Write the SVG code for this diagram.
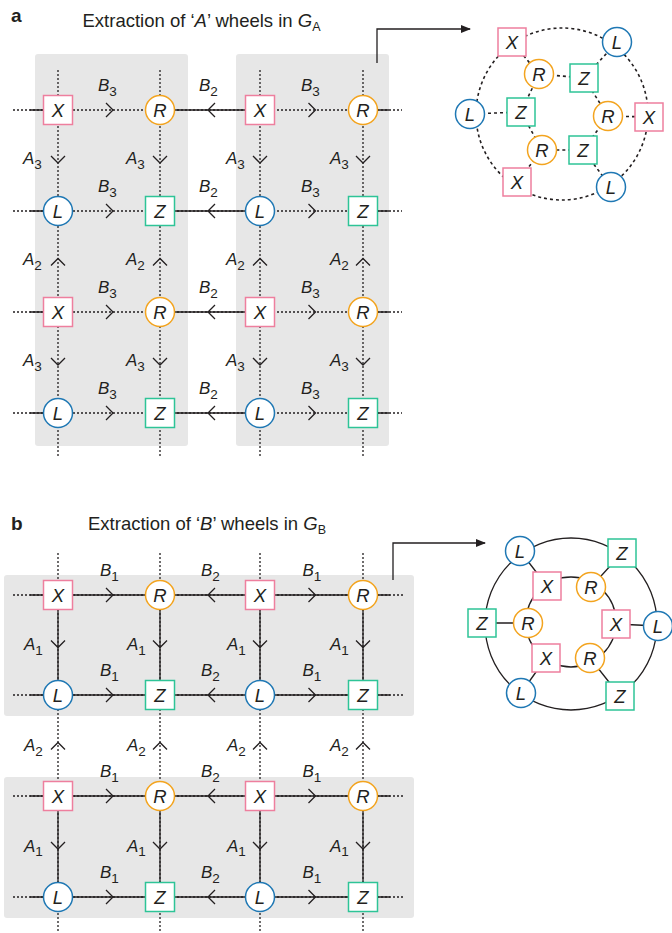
<svg xmlns="http://www.w3.org/2000/svg" xmlns:xlink="http://www.w3.org/1999/xlink" width="672" height="933" viewBox="0 0 672 933">
  <style>
    .ln { stroke: #231f20; stroke-width: 1.3; fill: none; }
    .dot { stroke-dasharray: 2 2; }
    .wd { stroke-width: 1.6; stroke-dasharray: 3 3; }
    .nd { fill: #ffffff; stroke-width: 1.5; }
    .X { stroke: #ee7f9e; }
    .Z { stroke: #2ec497; }
    .R { stroke: #f3a41f; }
    .L { stroke: #1f78b4; }
    .nt { font-family: "Liberation Sans", Arial, sans-serif; font-style: italic; font-size: 18.5px; text-anchor: middle; fill: #231f20; }
    .lb { font-family: "Liberation Sans", Arial, sans-serif; font-style: italic; font-size: 17px; fill: #231f20; }
    .sb { font-style: normal; font-size: 13.5px; }
    .ttl { font-family: "Liberation Sans", Arial, sans-serif; font-size: 18.5px; fill: #231f20; }
    .pl { font-family: "Liberation Sans", Arial, sans-serif; font-weight: bold; font-size: 19px; fill: #231f20; }
    .bg { fill: #e7e7e7; }
  </style>
  <defs>
    <path id="cr" class="ln" d="M-3.5,-7 L3.5,0 L-3.5,7"/>
    <path id="cl" class="ln" d="M3.5,-7 L-3.5,0 L3.5,7"/>
    <path id="cd" class="ln" d="M-7,-3.5 L0,3.5 L7,-3.5"/>
    <path id="cu" class="ln" d="M-7,3.5 L0,-3.5 L7,3.5"/>
    <marker id="ah" viewBox="0 0 10 8" refX="9" refY="4" markerWidth="10" markerHeight="8" markerUnits="userSpaceOnUse" orient="auto">
      <path d="M0,0 L10,4 L0,8 Z" fill="#231f20"/>
    </marker>
  </defs>

  <rect width="672" height="933" fill="#ffffff"/>

  <!-- panel headings -->
  <text class="pl" x="11" y="22">a</text>
  <text class="ttl" x="82.5" y="26.5">Extraction of ‘<tspan font-style="italic">A</tspan>’ wheels in <tspan font-style="italic">G</tspan><tspan font-size="12.5" dy="4">A</tspan></text>
  <text class="pl" x="11" y="530">b</text>
  <text class="ttl" x="88" y="530">Extraction of ‘<tspan font-style="italic">B</tspan>’ wheels in <tspan font-style="italic">G</tspan><tspan font-size="12.5" dy="4">B</tspan></text>

  <!-- shaded blocks -->
  <rect class="bg" x="35" y="54" width="153" height="392" rx="3"/>
  <rect class="bg" x="236" y="54" width="153" height="392" rx="3"/>
  <rect class="bg" x="4" y="575" width="410" height="141" rx="3"/>
  <rect class="bg" x="4" y="777" width="410" height="141" rx="3"/>

  <g id="connectors">
    <!-- panel a: vertical A edges (dotted) -->
    <path class="ln dot" d="M58,70 V458 M160,70 V458 M260,70 V458 M363,70 V458"/>
    <!-- panel a: horizontal B edges -->
    <path class="ln dot" d="M13,110 H402 M13,211 H402 M13,312 H402 M13,413 H402"/>
    <path class="ln" d="M30,110 H58 M160,110 H260 M363,110 H389 M30,211 H58 M160,211 H260 M363,211 H389 M30,312 H58 M160,312 H260 M363,312 H389 M30,413 H58 M160,413 H260 M363,413 H389"/>
    <!-- panel a chevrons -->
    <use href="#cr" x="109.5" y="110"/><use href="#cl" x="211.5" y="110"/><use href="#cr" x="312" y="110"/>
    <use href="#cr" x="109.5" y="211"/><use href="#cl" x="211.5" y="211"/><use href="#cr" x="312" y="211"/>
    <use href="#cr" x="109.5" y="312"/><use href="#cl" x="211.5" y="312"/><use href="#cr" x="312" y="312"/>
    <use href="#cr" x="109.5" y="413"/><use href="#cl" x="211.5" y="413"/><use href="#cr" x="312" y="413"/>
    <use href="#cd" x="58" y="159.5"/><use href="#cd" x="160" y="159.5"/><use href="#cd" x="260" y="159.5"/><use href="#cd" x="363" y="159.5"/>
    <use href="#cu" x="58" y="262"/><use href="#cu" x="160" y="262"/><use href="#cu" x="260" y="262"/><use href="#cu" x="363" y="262"/>
    <use href="#cd" x="58" y="361.5"/><use href="#cd" x="160" y="361.5"/><use href="#cd" x="260" y="361.5"/><use href="#cd" x="363" y="361.5"/>

    <!-- panel a: extraction arrow -->
    <path class="ln" d="M377,63 V29 H470" marker-end="url(#ah)"/>

    <!-- panel a wheel: outer loop, inner loop and spokes (dotted) -->
    <circle class="ln wd" cx="562" cy="114" r="86"/>
    <path class="ln wd" d="M539,74 L584,78 L608,116 L583,150 L542,150 L521,112 Z"/>
    <path class="ln wd" d="M512,42 L539,74 M584,78 L617,42 M608,116 L649,117 M583,150 L611,187 M542,150 L517,182 M521,112 L470,114"/>

    <!-- panel b: vertical A edges -->
    <path class="ln dot" d="M58,553 V933 M160,553 V933 M260,553 V933 M363,553 V933"/>
    <path class="ln" d="M58,595 V695 M160,595 V695 M260,595 V695 M363,595 V695 M58,796 V897 M160,796 V897 M260,796 V897 M363,796 V897"/>
    <!-- panel b: horizontal B edges -->
    <path class="ln dot" d="M13,595 H405 M13,695 H405 M13,796 H405 M13,897 H405"/>
    <path class="ln" d="M30,595 H390 M30,695 H390 M30,796 H390 M30,897 H390"/>
    <!-- panel b chevrons -->
    <use href="#cr" x="109.5" y="595"/><use href="#cl" x="211.5" y="595"/><use href="#cr" x="312" y="595"/>
    <use href="#cr" x="109.5" y="695"/><use href="#cl" x="211.5" y="695"/><use href="#cr" x="312" y="695"/>
    <use href="#cr" x="109.5" y="796"/><use href="#cl" x="211.5" y="796"/><use href="#cr" x="312" y="796"/>
    <use href="#cr" x="109.5" y="897"/><use href="#cl" x="211.5" y="897"/><use href="#cr" x="312" y="897"/>
    <use href="#cd" x="58" y="644"/><use href="#cd" x="160" y="644"/><use href="#cd" x="260" y="644"/><use href="#cd" x="363" y="644"/>
    <use href="#cu" x="58" y="746"/><use href="#cu" x="160" y="746"/><use href="#cu" x="260" y="746"/><use href="#cu" x="363" y="746"/>
    <use href="#cd" x="58" y="845.5"/><use href="#cd" x="160" y="845.5"/><use href="#cd" x="260" y="845.5"/><use href="#cd" x="363" y="845.5"/>

    <!-- panel b: extraction arrow -->
    <path class="ln" d="M393,580 V543 H485" marker-end="url(#ah)"/>

    <!-- panel b wheel: outer and inner rings, spokes (solid) -->
    <circle class="ln" cx="571" cy="624" r="86"/>
    <circle class="ln" cx="571" cy="622" r="45"/>
    <path class="ln" d="M520,551 L547,586 M622,553 L591,587 M482,623 L528,623 M658,626 L616,624 M521,693 L546,658 M620,696 L590,658"/>
  </g>

  <g id="edge-labels">
    <!-- panel a B labels -->
    <text class="lb" x="98" y="91">B<tspan class="sb" dy="4.5">3</tspan></text>
    <text class="lb" x="199" y="91">B<tspan class="sb" dy="4.5">2</tspan></text>
    <text class="lb" x="301" y="91">B<tspan class="sb" dy="4.5">3</tspan></text>
    <text class="lb" x="98" y="192">B<tspan class="sb" dy="4.5">3</tspan></text>
    <text class="lb" x="199" y="192">B<tspan class="sb" dy="4.5">2</tspan></text>
    <text class="lb" x="301" y="192">B<tspan class="sb" dy="4.5">3</tspan></text>
    <text class="lb" x="98" y="293">B<tspan class="sb" dy="4.5">3</tspan></text>
    <text class="lb" x="199" y="293">B<tspan class="sb" dy="4.5">2</tspan></text>
    <text class="lb" x="301" y="293">B<tspan class="sb" dy="4.5">3</tspan></text>
    <text class="lb" x="98" y="394">B<tspan class="sb" dy="4.5">3</tspan></text>
    <text class="lb" x="199" y="394">B<tspan class="sb" dy="4.5">2</tspan></text>
    <text class="lb" x="301" y="394">B<tspan class="sb" dy="4.5">3</tspan></text>
    <!-- panel a A labels -->
    <text class="lb" x="23" y="164">A<tspan class="sb" dy="4.5">3</tspan></text>
    <text class="lb" x="126" y="164">A<tspan class="sb" dy="4.5">3</tspan></text>
    <text class="lb" x="226" y="164">A<tspan class="sb" dy="4.5">3</tspan></text>
    <text class="lb" x="330" y="164">A<tspan class="sb" dy="4.5">3</tspan></text>
    <text class="lb" x="23" y="265">A<tspan class="sb" dy="4.5">2</tspan></text>
    <text class="lb" x="126" y="265">A<tspan class="sb" dy="4.5">2</tspan></text>
    <text class="lb" x="226" y="265">A<tspan class="sb" dy="4.5">2</tspan></text>
    <text class="lb" x="330" y="265">A<tspan class="sb" dy="4.5">2</tspan></text>
    <text class="lb" x="23" y="366">A<tspan class="sb" dy="4.5">3</tspan></text>
    <text class="lb" x="126" y="366">A<tspan class="sb" dy="4.5">3</tspan></text>
    <text class="lb" x="226" y="366">A<tspan class="sb" dy="4.5">3</tspan></text>
    <text class="lb" x="330" y="366">A<tspan class="sb" dy="4.5">3</tspan></text>

    <!-- panel b B labels -->
    <text class="lb" x="100" y="576">B<tspan class="sb" dy="4.5">1</tspan></text>
    <text class="lb" x="201" y="576">B<tspan class="sb" dy="4.5">2</tspan></text>
    <text class="lb" x="302.5" y="576">B<tspan class="sb" dy="4.5">1</tspan></text>
    <text class="lb" x="100" y="676">B<tspan class="sb" dy="4.5">1</tspan></text>
    <text class="lb" x="201" y="676">B<tspan class="sb" dy="4.5">2</tspan></text>
    <text class="lb" x="302.5" y="676">B<tspan class="sb" dy="4.5">1</tspan></text>
    <text class="lb" x="100" y="777">B<tspan class="sb" dy="4.5">1</tspan></text>
    <text class="lb" x="201" y="777">B<tspan class="sb" dy="4.5">2</tspan></text>
    <text class="lb" x="302.5" y="777">B<tspan class="sb" dy="4.5">1</tspan></text>
    <text class="lb" x="100" y="878">B<tspan class="sb" dy="4.5">1</tspan></text>
    <text class="lb" x="201" y="878">B<tspan class="sb" dy="4.5">2</tspan></text>
    <text class="lb" x="302.5" y="878">B<tspan class="sb" dy="4.5">1</tspan></text>
    <!-- panel b A labels -->
    <text class="lb" x="24" y="650">A<tspan class="sb" dy="4.5">1</tspan></text>
    <text class="lb" x="127" y="650">A<tspan class="sb" dy="4.5">1</tspan></text>
    <text class="lb" x="227" y="650">A<tspan class="sb" dy="4.5">1</tspan></text>
    <text class="lb" x="330" y="650">A<tspan class="sb" dy="4.5">1</tspan></text>
    <text class="lb" x="24" y="751">A<tspan class="sb" dy="4.5">2</tspan></text>
    <text class="lb" x="127" y="751">A<tspan class="sb" dy="4.5">2</tspan></text>
    <text class="lb" x="227" y="751">A<tspan class="sb" dy="4.5">2</tspan></text>
    <text class="lb" x="330" y="751">A<tspan class="sb" dy="4.5">2</tspan></text>
    <text class="lb" x="24" y="851.5">A<tspan class="sb" dy="4.5">1</tspan></text>
    <text class="lb" x="127" y="851.5">A<tspan class="sb" dy="4.5">1</tspan></text>
    <text class="lb" x="227" y="851.5">A<tspan class="sb" dy="4.5">1</tspan></text>
    <text class="lb" x="330" y="851.5">A<tspan class="sb" dy="4.5">1</tspan></text>
  </g>

  <!-- panel a lattice nodes -->
  <g id="a-r1-x1"><rect class="nd X" x="43.5" y="95.5" width="29" height="29"/><text class="nt" x="58" y="116.5">X</text></g>
  <g id="a-r1-r1"><circle class="nd R" cx="160" cy="110" r="14.5"/><text class="nt" x="160" y="116.5">R</text></g>
  <g id="a-r1-x2"><rect class="nd X" x="245.5" y="95.5" width="29" height="29"/><text class="nt" x="260" y="116.5">X</text></g>
  <g id="a-r1-r2"><circle class="nd R" cx="363" cy="110" r="14.5"/><text class="nt" x="363" y="116.5">R</text></g>

  <g id="a-r2-l1"><circle class="nd L" cx="58" cy="211" r="14.5"/><text class="nt" x="58" y="217.5">L</text></g>
  <g id="a-r2-z1"><rect class="nd Z" x="145.5" y="196.5" width="29" height="29"/><text class="nt" x="160" y="217.5">Z</text></g>
  <g id="a-r2-l2"><circle class="nd L" cx="260" cy="211" r="14.5"/><text class="nt" x="260" y="217.5">L</text></g>
  <g id="a-r2-z2"><rect class="nd Z" x="348.5" y="196.5" width="29" height="29"/><text class="nt" x="363" y="217.5">Z</text></g>

  <g id="a-r3-x1"><rect class="nd X" x="43.5" y="297.5" width="29" height="29"/><text class="nt" x="58" y="318.5">X</text></g>
  <g id="a-r3-r1"><circle class="nd R" cx="160" cy="312" r="14.5"/><text class="nt" x="160" y="318.5">R</text></g>
  <g id="a-r3-x2"><rect class="nd X" x="245.5" y="297.5" width="29" height="29"/><text class="nt" x="260" y="318.5">X</text></g>
  <g id="a-r3-r2"><circle class="nd R" cx="363" cy="312" r="14.5"/><text class="nt" x="363" y="318.5">R</text></g>

  <g id="a-r4-l1"><circle class="nd L" cx="58" cy="413" r="14.5"/><text class="nt" x="58" y="419.5">L</text></g>
  <g id="a-r4-z1"><rect class="nd Z" x="145.5" y="398.5" width="29" height="29"/><text class="nt" x="160" y="419.5">Z</text></g>
  <g id="a-r4-l2"><circle class="nd L" cx="260" cy="413" r="14.5"/><text class="nt" x="260" y="419.5">L</text></g>
  <g id="a-r4-z2"><rect class="nd Z" x="348.5" y="398.5" width="29" height="29"/><text class="nt" x="363" y="419.5">Z</text></g>

  <!-- panel a wheel nodes -->
  <g id="aw-x1"><rect class="nd X" x="498" y="28" width="28" height="28"/><text class="nt" x="512" y="48.5">X</text></g>
  <g id="aw-l1"><circle class="nd L" cx="617" cy="42" r="14.5"/><text class="nt" x="617" y="48.5">L</text></g>
  <g id="aw-x2"><rect class="nd X" x="635" y="103" width="28" height="28"/><text class="nt" x="649" y="123.5">X</text></g>
  <g id="aw-l2"><circle class="nd L" cx="611" cy="187" r="14.5"/><text class="nt" x="611" y="193.5">L</text></g>
  <g id="aw-x3"><rect class="nd X" x="503" y="168" width="28" height="28"/><text class="nt" x="517" y="188.5">X</text></g>
  <g id="aw-l3"><circle class="nd L" cx="470" cy="114" r="14.5"/><text class="nt" x="470" y="120.5">L</text></g>
  <g id="aw-r1"><circle class="nd R" cx="539" cy="74" r="14.5"/><text class="nt" x="539" y="80.5">R</text></g>
  <g id="aw-z1"><rect class="nd Z" x="570" y="64" width="28" height="28"/><text class="nt" x="584" y="84.5">Z</text></g>
  <g id="aw-r2"><circle class="nd R" cx="608" cy="116" r="14.5"/><text class="nt" x="608" y="122.5">R</text></g>
  <g id="aw-z2"><rect class="nd Z" x="569" y="136" width="28" height="28"/><text class="nt" x="583" y="156.5">Z</text></g>
  <g id="aw-r3"><circle class="nd R" cx="542" cy="150" r="14.5"/><text class="nt" x="542" y="156.5">R</text></g>
  <g id="aw-z3"><rect class="nd Z" x="507" y="98" width="28" height="28"/><text class="nt" x="521" y="118.5">Z</text></g>

  <!-- panel b lattice nodes -->
  <g id="b-r1-x1"><rect class="nd X" x="43.5" y="580.5" width="29" height="29"/><text class="nt" x="58" y="601.5">X</text></g>
  <g id="b-r1-r1"><circle class="nd R" cx="160" cy="595" r="14.5"/><text class="nt" x="160" y="601.5">R</text></g>
  <g id="b-r1-x2"><rect class="nd X" x="245.5" y="580.5" width="29" height="29"/><text class="nt" x="260" y="601.5">X</text></g>
  <g id="b-r1-r2"><circle class="nd R" cx="363" cy="595" r="14.5"/><text class="nt" x="363" y="601.5">R</text></g>

  <g id="b-r2-l1"><circle class="nd L" cx="58" cy="695" r="14.5"/><text class="nt" x="58" y="701.5">L</text></g>
  <g id="b-r2-z1"><rect class="nd Z" x="145.5" y="680.5" width="29" height="29"/><text class="nt" x="160" y="701.5">Z</text></g>
  <g id="b-r2-l2"><circle class="nd L" cx="260" cy="695" r="14.5"/><text class="nt" x="260" y="701.5">L</text></g>
  <g id="b-r2-z2"><rect class="nd Z" x="348.5" y="680.5" width="29" height="29"/><text class="nt" x="363" y="701.5">Z</text></g>

  <g id="b-r3-x1"><rect class="nd X" x="43.5" y="781.5" width="29" height="29"/><text class="nt" x="58" y="802.5">X</text></g>
  <g id="b-r3-r1"><circle class="nd R" cx="160" cy="796" r="14.5"/><text class="nt" x="160" y="802.5">R</text></g>
  <g id="b-r3-x2"><rect class="nd X" x="245.5" y="781.5" width="29" height="29"/><text class="nt" x="260" y="802.5">X</text></g>
  <g id="b-r3-r2"><circle class="nd R" cx="363" cy="796" r="14.5"/><text class="nt" x="363" y="802.5">R</text></g>

  <g id="b-r4-l1"><circle class="nd L" cx="58" cy="897" r="14.5"/><text class="nt" x="58" y="903.5">L</text></g>
  <g id="b-r4-z1"><rect class="nd Z" x="145.5" y="882.5" width="29" height="29"/><text class="nt" x="160" y="903.5">Z</text></g>
  <g id="b-r4-l2"><circle class="nd L" cx="260" cy="897" r="14.5"/><text class="nt" x="260" y="903.5">L</text></g>
  <g id="b-r4-z2"><rect class="nd Z" x="348.5" y="882.5" width="29" height="29"/><text class="nt" x="363" y="903.5">Z</text></g>

  <!-- panel b wheel nodes -->
  <g id="bw-l1"><circle class="nd L" cx="520" cy="551" r="14.5"/><text class="nt" x="520" y="557.5">L</text></g>
  <g id="bw-z1"><rect class="nd Z" x="608" y="539" width="28" height="28"/><text class="nt" x="622" y="559.5">Z</text></g>
  <g id="bw-z2"><rect class="nd Z" x="468" y="609" width="28" height="28"/><text class="nt" x="482" y="629.5">Z</text></g>
  <g id="bw-l2"><circle class="nd L" cx="658" cy="626" r="14.5"/><text class="nt" x="658" y="632.5">L</text></g>
  <g id="bw-l3"><circle class="nd L" cx="521" cy="693" r="14.5"/><text class="nt" x="521" y="699.5">L</text></g>
  <g id="bw-z3"><rect class="nd Z" x="606" y="682" width="28" height="28"/><text class="nt" x="620" y="702.5">Z</text></g>
  <g id="bw-x1"><rect class="nd X" x="533" y="572" width="28" height="28"/><text class="nt" x="547" y="592.5">X</text></g>
  <g id="bw-r1"><circle class="nd R" cx="591" cy="587" r="14.5"/><text class="nt" x="591" y="593.5">R</text></g>
  <g id="bw-r2"><circle class="nd R" cx="528" cy="623" r="14.5"/><text class="nt" x="528" y="629.5">R</text></g>
  <g id="bw-x2"><rect class="nd X" x="602" y="610" width="28" height="28"/><text class="nt" x="616" y="630.5">X</text></g>
  <g id="bw-x3"><rect class="nd X" x="532" y="644" width="28" height="28"/><text class="nt" x="546" y="664.5">X</text></g>
  <g id="bw-r3"><circle class="nd R" cx="590" cy="658" r="14.5"/><text class="nt" x="590" y="664.5">R</text></g>
</svg>
